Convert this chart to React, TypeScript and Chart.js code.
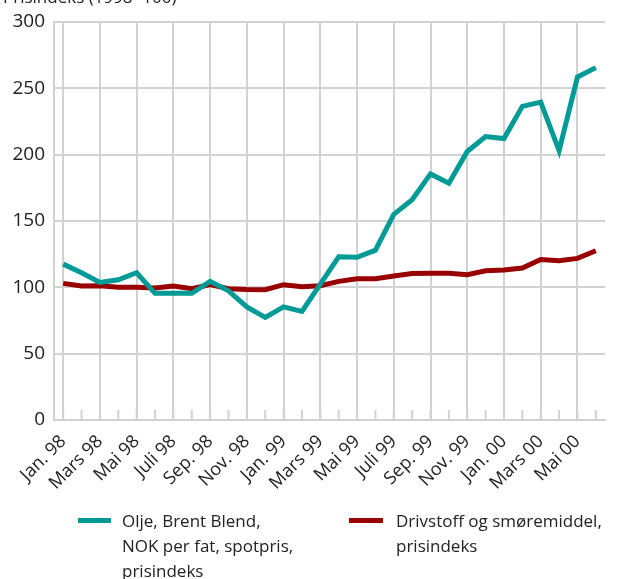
import React, { useEffect, useRef } from "react";
import { Chart, registerables } from "chart.js";
Chart.register(...registerables);

const months = [
  "Jan. 98", "Feb. 98", "Mars 98", "April 98", "Mai 98", "Juni 98", "Juli 98", "Aug. 98", "Sep. 98", "Okt. 98", "Nov. 98", "Des. 98",
  "Jan. 99", "Feb. 99", "Mars 99", "April 99", "Mai 99", "Juni 99", "Juli 99", "Aug. 99", "Sep. 99", "Okt. 99", "Nov. 99", "Des. 99",
  "Jan. 00", "Feb. 00", "Mars 00", "April 00", "Mai 00", "Juni 00",
];

const oilValues = [
  117.5, 111, 103.7, 105.7, 111, 95.5, 95.5, 95.5, 104.5, 97.4, 85.3, 77.3,
  85.3, 81.8, 102.5, 123, 122.6, 128, 155, 166, 185.5, 178.5, 202.4, 213.7,
  212.2, 236.4, 239.6, 203, 258.5, 265.6,
];

const fuelValues = [
  103, 101, 101.2, 100, 100, 99.5, 101, 99, 102, 99, 98.4, 98.2,
  102, 100.5, 101.2, 104.5, 106.5, 106.5, 108.5, 110.5, 110.7, 110.7, 109.5, 112.5,
  113, 114.5, 121, 120, 121.8, 127.6,
];

const yTicks = [0, 50, 100, 150, 200, 250, 300];

const titleText = "Prisindeks (1998=100)";
const oilLabel = ["Olje, Brent Blend,", "NOK per fat, spotpris,", "prisindeks"];
const fuelLabel = ["Drivstoff og smøremiddel,", "prisindeks"];

const TEAL = "#009b97";
const RED = "#990000";
const GRID = "#d2d2d2";
const FONT = "'Open Sans', sans-serif";

export default function App() {
  const ref = useRef<HTMLCanvasElement | null>(null);

  useEffect(() => {
    if (!ref.current) return;
    const innerTicks = {
      id: "innerTicks",
      beforeDatasetsDraw(chart: any) {
        const xs = chart.scales.x;
        const ctx = chart.ctx;
        const bottom = chart.chartArea.bottom;
        ctx.save();
        ctx.strokeStyle = GRID;
        ctx.lineWidth = 2;
        for (let i = 0; i < months.length; i++) {
          const x = xs.getPixelForTick(i);
          ctx.beginPath();
          ctx.moveTo(x, bottom);
          ctx.lineTo(x, bottom - 10);
          ctx.stroke();
        }
        ctx.restore();
      },
      afterDraw(chart: any) {
        const ctx = chart.ctx;
        ctx.save();
        ctx.fillStyle = "#222";
        ctx.font = `17px ${FONT}`;
        ctx.textBaseline = "alphabetic";
        ctx.textAlign = "left";
        ctx.fillText(titleText, 3, 3);
        ctx.restore();
      },
    };

    const chart = new Chart(ref.current, {
      type: "line",
      data: {
        labels: months,
        datasets: [
          {
            label: oilLabel.join(" "),
            data: oilValues,
            borderColor: TEAL,
            backgroundColor: TEAL,
            borderWidth: 5,
            pointRadius: 0,
            tension: 0,
          },
          {
            label: fuelLabel.join(" "),
            data: fuelValues,
            borderColor: RED,
            backgroundColor: RED,
            borderWidth: 5,
            pointRadius: 0,
            tension: 0,
          },
        ],
      },
      options: {
        animation: false,
        responsive: true,
        maintainAspectRatio: false,
        layout: { padding: { top: 22, right: 27, left: 0, bottom: 0 } },
        plugins: {
          legend: { display: false },
          tooltip: { enabled: false },
          title: { display: false },
        },
        scales: {
          x: {
            type: "category",
            offset: true,
            grid: {
              offset: false,
              drawTicks: false,
              lineWidth: 2,
              color: (c: any) => (c.index % 2 === 0 ? GRID : "rgba(0,0,0,0)"),
            },
            border: { color: GRID, width: 2 },
            ticks: {
              autoSkip: false,
              maxRotation: 45,
              minRotation: 45,
              padding: 11,
              color: "#222",
              font: { family: FONT, size: 18 },
              callback: (_v: any, i: number) => (i % 2 === 0 ? months[i] : ""),
            },
            afterFit: (s: any) => {
              s.height = 159;
            },
          },
          y: {
            min: 0,
            max: 300,
            grid: { color: GRID, lineWidth: 2, drawTicks: false },
            border: { color: GRID, width: 2 },
            afterBuildTicks: (s: any) => {
              s.ticks = yTicks.map((v) => ({ value: v }));
            },
            ticks: {
              padding: 9,
              color: "#222",
              font: { family: FONT, size: 19 },
            },
            afterFit: (s: any) => {
              s.width = 54;
            },
          },
        },
      },
      plugins: [innerTicks],
    } as any);
    return () => chart.destroy();
  }, []);

  const textStyle: React.CSSProperties = {
    fontFamily: FONT,
    fontSize: 17,
    lineHeight: "25px",
    color: "#222",
  };

  return (
    <div style={{ position: "fixed", left: 0, top: 0, width: 632, height: 579, background: "#fff", overflow: "hidden" }}>
      <canvas ref={ref} style={{ position: "absolute", left: 0, top: 0, width: 632, height: 579 }} />
      <div style={{ position: "absolute", left: 78, top: 518, width: 33, height: 5, background: TEAL }} />
      <div style={{ ...textStyle, position: "absolute", left: 122, top: 508 }}>
        {oilLabel.map((t, i) => (
          <div key={i}>{t}</div>
        ))}
      </div>
      <div style={{ position: "absolute", left: 349, top: 518, width: 34, height: 5, background: RED }} />
      <div style={{ ...textStyle, position: "absolute", left: 396, top: 508 }}>
        {fuelLabel.map((t, i) => (
          <div key={i}>{t}</div>
        ))}
      </div>
    </div>
  );
}
